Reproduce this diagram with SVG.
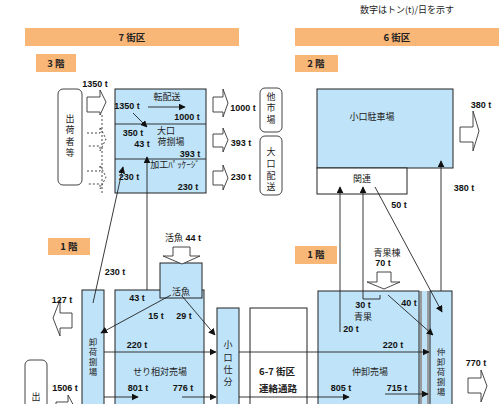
<svg xmlns="http://www.w3.org/2000/svg" width="499" height="404" viewBox="0 0 499 404">
<defs>
<style>
.bar{fill:#F9B777}
.blue{fill:#BFE3F8;stroke:#222;stroke-width:1}
.white{fill:#fff;stroke:#222;stroke-width:1}
.rr{fill:#fff;stroke:#444;stroke-width:1}
.barr{fill:#fff;stroke:#333;stroke-width:0.9}
.dash{fill:none;stroke:#333;stroke-width:0.9;stroke-dasharray:2,2}
.ln{fill:none;stroke:#222;stroke-width:0.9}
.arr{fill:none;stroke:#222;stroke-width:0.9;marker-end:url(#ah)}
.n{font-family:"Liberation Sans",Arial,sans-serif;font-weight:bold;font-size:9px;fill:#111;text-anchor:middle}
.j{font-family:"Noto Sans CJK JP","Noto Sans",sans-serif;font-size:9px;fill:#222;text-anchor:middle}
.jb{font-family:"Noto Sans CJK JP","Noto Sans",sans-serif;font-weight:bold;font-size:9.5px;fill:#222;text-anchor:middle}
.v{font-family:"Noto Sans CJK JP","Noto Sans",sans-serif;font-size:8.5px;fill:#222;text-anchor:middle;writing-mode:vertical-rl;letter-spacing:1.5px}
</style>
<marker id="ah" viewBox="0 0 10 10" refX="9" refY="5" markerWidth="7" markerHeight="7" markerUnits="userSpaceOnUse" orient="auto">
<path d="M0,0 L10,5 L0,10 Z" fill="#111"/>
</marker>
</defs>
<rect width="499" height="404" fill="#fff"/>

<g id="headers">
<text class="j" x="407" y="13" font-size="10">数字はトン(t)/日を示す</text>
<rect class="bar" x="25" y="28" width="214" height="18"/>
<text class="jb" x="132" y="41">7 街区</text>
<rect class="bar" x="295" y="28" width="204" height="18"/>
<text class="jb" x="397" y="41">6 街区</text>
<rect class="bar" x="36" y="54" width="40" height="18"/>
<text class="jb" x="56" y="67">3 階</text>
<rect class="bar" x="295" y="55" width="43" height="17"/>
<text class="jb" x="316" y="67">2 階</text>
<rect class="bar" x="48" y="238" width="42" height="17"/>
<text class="jb" x="69" y="250">1 階</text>
<rect class="bar" x="295" y="246" width="42" height="18"/>
<text class="jb" x="316" y="258">1 階</text>
</g>

<g id="shippers3F">
<rect class="rr" x="58" y="89" width="24" height="96" rx="5"/>
<text class="j" x="70" y="121.5">出</text>
<text class="j" x="70" y="133">荷</text>
<text class="j" x="70" y="144.5">者</text>
<text class="j" x="70" y="156">等</text>
</g>

<g id="inArrows3F">
<path class="barr" d="M87,97 H100 V90 L106,102 L100,115 V112 H87 Z"/>
<path class="dash" d="M87,133 H100 V127 L106,139 L100,151 V146 H87"/>
<path class="dash" d="M87,171 H100 V165 L106,177 L100,189 V184 H87"/>
<path class="dash" d="M102,115 V193"/>
<text class="n" x="95" y="87">1350 t</text>
</g>

<g id="box3F">
<rect class="blue" x="115" y="89" width="91" height="104"/>
<line class="ln" x1="115" y1="124" x2="206" y2="124"/>
<line class="ln" x1="115" y1="159" x2="206" y2="159"/>
<text class="j" x="167" y="100">転配送</text>
<text class="n" x="127" y="109">1350 t</text>
<text class="n" x="187" y="120">1000 t</text>
<text class="n" x="133" y="136">350 t</text>
<text class="j" x="166" y="133.5">大口</text>
<text class="n" x="142" y="147">43 t</text>
<text class="j" x="171" y="145">荷捌場</text>
<text class="n" x="190" y="157">393 t</text>
<text class="j" x="175" y="168">加工ﾊﾟｯｹｰｼﾞ</text>
<text class="n" x="129" y="180">230 t</text>
<text class="n" x="188" y="190">230 t</text>
</g>

<g id="outArrows3F">
<path class="barr" d="M213,97 H223 V89 L228,103 L223,117 V112 H213 Z"/>
<path class="barr" d="M213,134 H223 V128 L228,140 L223,152 V147 H213 Z"/>
<path class="barr" d="M213,171 H223 V165 L228,178 L223,190 V185 H213 Z"/>
<text class="n" x="243" y="111">1000 t</text>
<text class="n" x="241" y="146">393 t</text>
<text class="n" x="241" y="180">230 t</text>
</g>

<g id="otherMarkets">
<rect class="rr" x="260" y="88" width="22" height="44" rx="5"/>
<text class="j" x="271" y="99.5">他</text>
<text class="j" x="271" y="111">市</text>
<text class="j" x="271" y="122.5">場</text>
</g>
<g id="largeDelivery">
<rect class="rr" x="260" y="136" width="22" height="59" rx="5"/>
<text class="j" x="271" y="155">大</text>
<text class="j" x="271" y="167">口</text>
<text class="j" x="271" y="178.5">配</text>
<text class="j" x="271" y="190">送</text>
</g>

<g id="parking2F">
<rect class="blue" x="317" y="89" width="136" height="79"/>
<text class="j" x="372" y="120">小口駐車場</text>
</g>
<g id="related">
<rect class="white" x="317" y="168" width="90" height="26"/>
<text class="j" x="362" y="182">関連</text>
</g>
<g id="out380">
<path class="barr" d="M460,127 H473 V111 L479,131 L473,151 V142 H460 Z"/>
<text class="n" x="481" y="108">380 t</text>
</g>

<g id="unloading7">
<rect class="blue" x="82" y="290" width="22" height="120"/>
<text class="v" x="93" y="357.5" font-size="9" letter-spacing="2">卸荷捌場</text>
</g>
<g id="auction">
<rect class="blue" x="115" y="290" width="89" height="120"/>
<text class="j" x="160" y="375">せり相対売場</text>
</g>
<g id="liveFish">
<rect class="blue" x="160" y="263" width="42" height="35"/>
<text class="j" x="181" y="295">活魚</text>
<path class="barr" d="M173,247 H190 V256 H200 L182,264 L163,256 H173 Z"/>
<text class="n" x="183" y="241"><tspan font-family="Noto Sans CJK JP" font-weight="normal">活魚</tspan> 44 t</text>
</g>
<g id="sorting">
<rect class="blue" x="217" y="308" width="22" height="100"/>
<text class="j" x="228" y="348">小</text>
<text class="j" x="228" y="361">口</text>
<text class="j" x="228" y="373">仕</text>
<text class="j" x="228" y="385">分</text>
</g>
<g id="passage">
<rect class="white" x="250" y="308" width="57" height="100"/>
<text class="jb" x="277" y="375" font-size="9">6-7 街区</text>
<text class="jb" x="278" y="392" font-size="9">連絡通路</text>
</g>
<g id="intermediate">
<rect fill="#BFE3F8" x="318" y="291" width="112" height="120"/>
<rect class="blue" x="318" y="291" width="101" height="120"/>
<line x1="421" y1="291" x2="421" y2="404" stroke="#9a9a9a" stroke-width="2"/>
<line x1="428" y1="291" x2="428" y2="404" stroke="#9a9a9a" stroke-width="2"/>
<text class="j" x="370" y="375">仲卸売場</text>
</g>
<g id="unloading6">
<rect class="blue" x="430" y="291" width="22" height="120"/>
<text class="v" x="441" y="373">仲卸荷捌場</text>
</g>
<g id="produce">
<path class="barr" d="M377,272 H391 V282 H400 L384,289 L367,282 H377 Z"/>
<text class="j" x="387" y="256">青果棟</text>
<text class="n" x="383" y="266">70 t</text>
</g>
<g id="flows1F">
<path class="barr" d="M72,313 H60 V300 L53,318 L60,336 V328 H72 Z"/>
<text class="n" x="62" y="303">127 t</text>
<path class="barr" d="M56,402 H68 V395 L76,410 L68,425 V418 H56 Z"/>
<text class="n" x="65" y="391">1506 t</text>
<path class="barr" d="M468,378 H481 V370 L487,386 L481,402 V393 H468 Z"/>
<text class="n" x="476" y="366">770 t</text>
</g>
<g id="shippers1F">
<rect class="rr" x="25" y="360" width="22" height="60" rx="5"/>
<text class="j" x="36" y="400">出</text>
</g>

<g id="connectors">
<line class="arr" x1="148" y1="107" x2="185" y2="107"/>
<line class="arr" x1="133" y1="113" x2="147" y2="127"/>
<line class="arr" x1="147" y1="290" x2="147" y2="157"/>
<line class="arr" x1="93" y1="303" x2="123" y2="167"/>
<line class="arr" x1="171" y1="295" x2="101" y2="333"/>
<line class="arr" x1="182" y1="296" x2="215" y2="335"/>
<line class="arr" x1="104" y1="352" x2="216" y2="352"/>
<line class="arr" x1="104" y1="397" x2="138" y2="397"/>
<line class="arr" x1="182" y1="397" x2="216" y2="397"/>
<line class="arr" x1="239" y1="352" x2="429" y2="352"/>
<line class="arr" x1="239" y1="397" x2="349" y2="397"/>
<line class="arr" x1="385" y1="394" x2="428" y2="394"/>
<line class="arr" x1="340" y1="332" x2="340" y2="187"/>
<path class="arr" d="M380,295 V299 H363 V187"/>
<line class="arr" x1="388" y1="295" x2="433" y2="335"/>
<line class="arr" x1="375" y1="187" x2="442" y2="312"/>
<line class="arr" x1="441" y1="291" x2="441" y2="161"/>
<text class="n" x="115" y="275">230 t</text>
<text class="n" x="137" y="301">43 t</text>
<text class="n" x="156" y="319">15 t</text>
<text class="n" x="184" y="319">29 t</text>
<text class="n" x="137" y="348">220 t</text>
<text class="n" x="138" y="391">801 t</text>
<text class="n" x="183" y="391">776 t</text>
<text class="n" x="393" y="348">220 t</text>
<text class="n" x="341" y="391">805 t</text>
<text class="n" x="397" y="391">715 t</text>
<text class="n" x="363" y="308">30 t</text>
<text class="j" x="363" y="320">青果</text>
<text class="n" x="351" y="332">20 t</text>
<text class="n" x="409" y="306">40 t</text>
<text class="n" x="399" y="208">50 t</text>
<text class="n" x="464" y="191">380 t</text>
</g>
</svg>
